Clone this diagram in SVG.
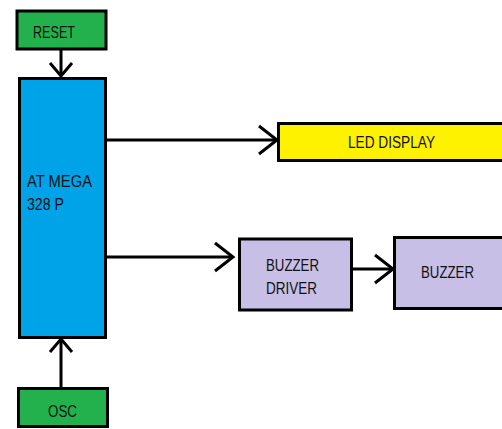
<svg xmlns="http://www.w3.org/2000/svg" width="502" height="429" viewBox="0 0 502 429">
<style>
.box{stroke:#000;stroke-width:3}
.green{fill:#22b14c}
.blue{fill:#00a2e8}
.yellow{fill:#fff200}
.purple{fill:#c8bfe7}
text{font-family:"Liberation Sans",Arial,sans-serif;font-size:16px;fill:#111}
.conn{stroke:#000;stroke-width:3;fill:none}
</style>
<defs>
<marker id="big" markerUnits="userSpaceOnUse" markerWidth="40" markerHeight="40" refX="0" refY="0" orient="auto" overflow="visible">
<path d="M-18,-14 L0,0 L-18,14" fill="none" stroke="#000" stroke-width="3"/>
</marker>
<marker id="small" markerUnits="userSpaceOnUse" markerWidth="40" markerHeight="40" refX="0" refY="0" orient="auto" overflow="visible">
<path d="M-13,-11 L0,0 L-13,11" fill="none" stroke="#000" stroke-width="3"/>
</marker>
</defs>
<rect width="502" height="429" fill="#fff"/>
<g id="connectors">
<line class="conn" x1="61" y1="50" x2="61" y2="76" marker-end="url(#small)"/>
<line class="conn" x1="61" y1="387" x2="61" y2="339" marker-end="url(#small)"/>
<line class="conn" x1="106" y1="140" x2="277" y2="140" marker-end="url(#big)"/>
<line class="conn" x1="106" y1="257" x2="233" y2="257" marker-end="url(#big)"/>
<line class="conn" x1="352" y1="269" x2="393" y2="269" marker-end="url(#big)"/>
</g>
<g id="reset">
<rect class="box green" x="17" y="11" width="89" height="38"/>
<text x="33" y="38" textLength="42" lengthAdjust="spacingAndGlyphs">RESET</text>
</g>
<g id="atmega">
<rect class="box blue" x="19.5" y="78.5" width="86" height="259"/>
<text x="27" y="187" textLength="65" lengthAdjust="spacingAndGlyphs">AT MEGA</text>
<text x="27" y="210" textLength="37" lengthAdjust="spacingAndGlyphs">328 P</text>
</g>
<g id="osc">
<rect class="box green" x="18.5" y="388.5" width="89" height="38"/>
<text x="48" y="417" textLength="29" lengthAdjust="spacingAndGlyphs">OSC</text>
</g>
<g id="led">
<rect class="box yellow" x="278.5" y="123.5" width="230" height="37"/>
<text x="348" y="148" textLength="87" lengthAdjust="spacingAndGlyphs">LED DISPLAY</text>
</g>
<g id="buzzer-driver">
<rect class="box purple" x="239.5" y="239" width="112" height="71"/>
<text x="266" y="271" textLength="53" lengthAdjust="spacingAndGlyphs">BUZZER</text>
<text x="266" y="294" textLength="51" lengthAdjust="spacingAndGlyphs">DRIVER</text>
</g>
<g id="buzzer">
<rect class="box purple" x="394.5" y="237.5" width="120" height="71"/>
<text x="421" y="278" textLength="53" lengthAdjust="spacingAndGlyphs">BUZZER</text>
</g>
</svg>
